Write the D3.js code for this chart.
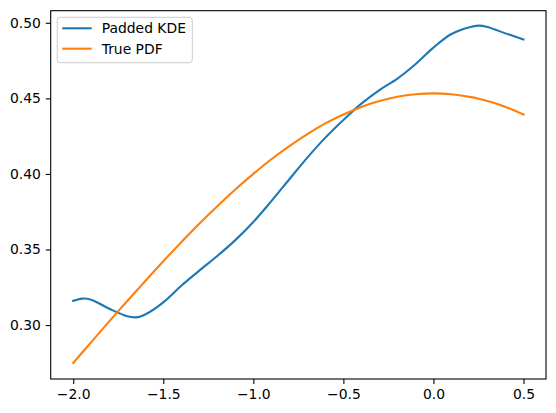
<!DOCTYPE html>
<html>
<head>
<meta charset="utf-8">
<script src="https://cdn.jsdelivr.net/npm/d3@7"></script>
<style>
  body { margin: 0; background: #fff; }
  svg { display: block; font-family: "DejaVu Sans", sans-serif; }
</style>
</head>
<body>
<svg width="556" height="413"></svg>
<script>
// x positions of the sampled points
var xs = [-2.0, -1.95, -1.9, -1.8, -1.7, -1.65, -1.6, -1.5, -1.4, -1.3, -1.2, -1.1, -1.0,
          -0.9, -0.8, -0.7, -0.6, -0.5, -0.4, -0.3, -0.2, -0.1, 0.0, 0.1, 0.2, 0.25, 0.3, 0.4, 0.5];

// Padded KDE values
var kdeValues = [0.3160, 0.3175, 0.3168, 0.3108, 0.3058, 0.3051, 0.3070, 0.3150, 0.3260, 0.3360,
                 0.3457, 0.3562, 0.3682, 0.3820, 0.3965, 0.4108, 0.4240, 0.4357, 0.4465, 0.4555,
                 0.4631, 0.4726, 0.4836, 0.4926, 0.4971, 0.4981, 0.4972, 0.4930, 0.4890];

// True PDF values
var pdfValues = [0.2749, 0.2818, 0.2887, 0.3024, 0.3159, 0.3225, 0.3291, 0.3422, 0.3548, 0.3670,
                 0.3786, 0.3897, 0.4000, 0.4097, 0.4184, 0.4264, 0.4334, 0.4393, 0.4443, 0.4482,
                 0.4510, 0.4527, 0.4533, 0.4527, 0.4510, 0.4498, 0.4482, 0.4443, 0.4393];

var xTicks = [-2.0, -1.5, -1.0, -0.5, 0.0, 0.5];
var yTicks = [0.30, 0.35, 0.40, 0.45, 0.50];

var seriesNames = ["Padded KDE", "True PDF"];
var colors = ["#1f77b4", "#ff7f0e"];

var svg = d3.select("svg");
var margins = { top: 10.7, bottom: 34, left: 50.7, right: 10 };
var svgWidth = +svg.attr("width");
var svgHeight = +svg.attr("height");
var chartWidth = svgWidth - margins.left - margins.right;
var chartHeight = svgHeight - margins.top - margins.bottom;

var xScale = d3.scaleLinear().domain([-2.125, 0.625]).range([0, chartWidth]);
var yScale = d3.scaleLinear().domain([0.2643, 0.5080]).range([chartHeight, 0]);

var g = svg.append("g")
    .attr("transform", "translate(" + margins.left + "," + margins.top + ")");

var fmtMinus = function (s) { return s.replace("-", "\u2212"); };

// axes
var xAxis = d3.axisBottom(xScale).tickValues(xTicks).tickSize(4.9).tickPadding(4.9)
    .tickFormat(function (d) { return fmtMinus(d3.format(".1f")(d)); });
var yAxis = d3.axisLeft(yScale).tickValues(yTicks).tickSize(4.9).tickPadding(4.9)
    .tickFormat(function (d) { return d3.format(".2f")(d); });

var gx = g.append("g").attr("transform", "translate(0," + chartHeight + ")").call(xAxis);
var gy = g.append("g").call(yAxis);
[gx, gy].forEach(function (a) {
    a.select(".domain").remove();
    a.selectAll(".tick line").attr("stroke", "#000").attr("stroke-width", 1.1);
    a.selectAll(".tick text").attr("fill", "#000").style("font-size", "13.9px")
        .style("font-family", "DejaVu Sans, sans-serif");
});

// lines
var line = d3.line()
    .x(function (d) { return xScale(d[0]); })
    .y(function (d) { return yScale(d[1]); })
    .curve(d3.curveCatmullRom);

[kdeValues, pdfValues].forEach(function (vals, i) {
    var pts = xs.map(function (x, j) { return [x, vals[j]]; });
    g.append("path")
        .datum(pts)
        .attr("d", line)
        .attr("fill", "none")
        .attr("stroke", colors[i])
        .attr("stroke-width", 2.1)
        .attr("stroke-linecap", "square");
});

// frame
g.append("rect")
    .attr("x", 0).attr("y", 0)
    .attr("width", chartWidth).attr("height", chartHeight)
    .attr("fill", "none").attr("stroke", "#000").attr("stroke-width", 1.1);

// legend
var legend = g.append("g").attr("transform", "translate(" + (57.3 - margins.left) + "," + (17.3 - margins.top) + ")");
legend.append("rect")
    .attr("width", 135).attr("height", 45.4)
    .attr("rx", 3).attr("ry", 3)
    .attr("fill", "#fff").attr("fill-opacity", 0.8)
    .attr("stroke", "#cccccc").attr("stroke-width", 1);

seriesNames.forEach(function (name, i) {
    var yy = 11 + i * 20.4;
    legend.append("line")
        .attr("x1", 5).attr("x2", 34.4)
        .attr("y1", yy).attr("y2", yy)
        .attr("stroke", colors[i]).attr("stroke-width", 2.1);
    legend.append("text")
        .attr("x", 44.4).attr("y", yy)
        .attr("dy", "0.35em")
        .style("font-size", "13.9px")
        .attr("fill", "#000")
        .text(name);
});
</script>
</body>
</html>
